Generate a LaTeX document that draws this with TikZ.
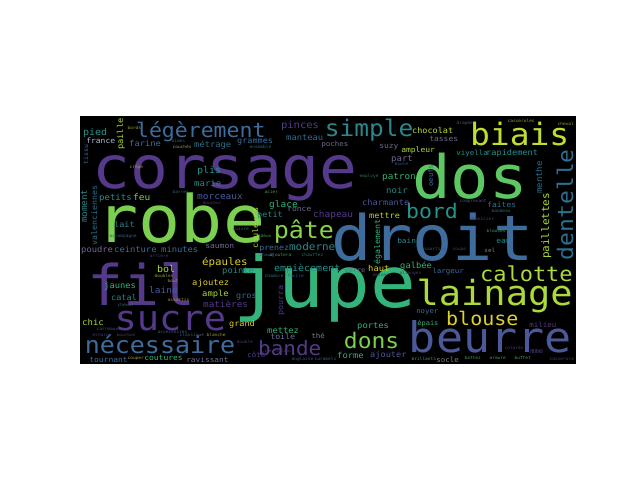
\documentclass[tikz,border=0pt]{standalone}
\usepackage{fontspec}
\newfontfamily\wcf[FakeStretch=1.07]{DejaVu Sans Mono}
\definecolor{vPa}{HTML}{55398B}
\definecolor{vPb}{HTML}{4B599B}
\definecolor{vBa}{HTML}{3E6C9C}
\definecolor{vBb}{HTML}{2C6F8E}
\definecolor{vTa}{HTML}{2A878B}
\definecolor{vTb}{HTML}{24948D}
\definecolor{vGa}{HTML}{32B47A}
\definecolor{vGb}{HTML}{5DC863}
\definecolor{vGc}{HTML}{7BD04F}
\definecolor{vGd}{HTML}{89D548}
\definecolor{vYa}{HTML}{ACD93C}
\definecolor{vYb}{HTML}{C1DE2F}
\definecolor{vYc}{HTML}{DDD12B}
\definecolor{vGra}{HTML}{6E6A90}
\definecolor{vGrb}{HTML}{7A7E8A}
\definecolor{vLt}{HTML}{A9B8D6}
\definecolor{tP}{HTML}{4A3A70}
\definecolor{tB}{HTML}{3A5A80}
\definecolor{tT}{HTML}{2A7070}
\definecolor{tG}{HTML}{4A9A60}
\definecolor{tY}{HTML}{9AA040}
\tikzset{wc/.style={anchor=base west, inner sep=0pt, outer sep=0pt}}
\newcommand\wcsize[1]{\fontsize{\fpeval{#1/1.07}}{\fpeval{#1/1.07}}\selectfont}
\newcommand\wh[6]{\node[wc,text=#5,font=\wcf\wcsize{#4}] (#1) at ({#2-0.09*#4},#3) {#6};}
\newcommand\wv[6]{\node[wc,rotate=90,text=#5,font=\wcf\wcsize{#4}] (#1) at (#2,{#3+0.09*#4}) {#6};}
\begin{document}
\begin{tikzpicture}[x=1pt,y=-1pt]
\useasboundingbox (0,0) rectangle (640,480);
\fill[white] (0,0) rectangle (640,480);
\fill[black] (80,116) rectangle (576,364);
% large words
\wh{corsage}{98}{188}{63}{vPa}{corsage}
\wh{robe}{103}{242}{70}{vGc}{robe}
\wh{dos}{418}{198}{64}{vGb}{dos}
\wh{droit}{338}{260}{67}{vBa}{droit}
\wh{jupe}{240}{307}{76}{vGa}{jupe}
\wh{fil}{93}{305}{60}{vPa}{fil}
\wh{sucre}{118}{330}{37}{vPa}{sucre}
\wh{necessaire}{87}{353}{25}{vBa}{nécessaire}
\wh{bande}{260}{355}{21}{vPa}{bande}
\wh{beurre}{413}{352}{45}{vPb}{beurre}
\wh{lainage}{420}{305}{37}{vYa}{lainage}
\wh{calotte}{482}{281}{22}{vYa}{calotte}
\wh{blouse}{448}{325}{20}{vYc}{blouse}
\wh{biais}{473}{145}{33}{vYb}{biais}
\wh{simple}{327}{136}{24.5}{vTa}{simple}
\wh{legerement}{138}{137}{21.5}{vBa}{légèrement}
\wh{bord}{408}{218}{21.5}{vTb}{bord}
\wh{pate}{276}{238}{25}{vGd}{pâte}
\wh{dons}{346}{348}{23}{vGc}{dons}
\wv{dentelle}{573}{258}{23}{vBb}{dentelle}
% medium / small words
\wh{pinces}{282}{128}{10.5}{vPa}{pinces}
\wh{pied}{84}{135}{10}{vTb}{pied}
\wh{france}{87}{143}{8}{vLt}{france}
\wh{farine}{130}{146}{8.8}{vBa}{farine}
\wh{metrage}{195}{147}{8.8}{vBb}{métrage}
\wh{grammes}{238}{143}{8.5}{vBa}{grammes}
\wh{manteau}{287}{140}{8.8}{vBb}{manteau}
\wh{poches}{322}{146}{7.5}{vGra}{poches}
\wh{chocolat}{413}{133}{8.5}{vYb}{chocolat}
\wh{tasses}{430}{141}{8}{vGra}{tasses}
\wh{suzy}{380}{148}{8}{vGra}{suzy}
\wh{ampleur}{402}{152}{8}{vYa}{ampleur}
\wh{viyella}{457}{155}{7.5}{vTb}{viyella}
\wh{rapidement}{487}{155}{8.6}{vTb}{rapidement}
\wh{part}{392}{161}{9}{vGra}{part}
\wh{patron}{383}{179}{9.3}{vGa}{patron}
\wh{noir}{387}{193}{9}{vTa}{noir}
\wh{charmante}{363}{205}{8.7}{vPb}{charmante}
\wh{faites}{488}{207}{8}{vBb}{faites}
\wh{mettre}{370}{218}{8.5}{vYa}{mettre}
\wh{plis}{198}{173}{10}{vTb}{plis}
\wh{marie}{195}{186}{9}{vTa}{marie}
\wh{petits}{100}{200}{9}{vTb}{petits}
\wh{feu}{134}{200}{9.5}{vGc}{feu}
\wh{morceaux}{198}{199}{9.5}{vPb}{morceaux}
\wh{glace}{270}{207}{9.5}{vGa}{glace}
\wh{ronce}{288}{211}{8}{vGra}{ronce}
\wh{petit}{258}{217}{8.5}{vTa}{petit}
\wh{chapeau}{314}{217}{9.5}{vPa}{chapeau}
\wh{lait}{115}{227}{8.5}{vTa}{lait}
\wh{poudre}{82}{252}{8.8}{vGra}{poudre}
\wh{ceinture}{115}{252}{8.8}{vBa}{ceinture}
\wh{minutes}{162}{252}{8.8}{vBa}{minutes}
\wh{saumon}{206}{248}{8}{vGra}{saumon}
\wh{prenez}{260}{250}{8.3}{vBa}{prenez}
\wh{moderne}{290}{250}{11}{vTa}{moderne}
\wh{epaules}{203}{265}{10.8}{vYc}{épaules}
\wh{bol}{158}{272}{10}{vYa}{bol}
\wh{pointe}{223}{273}{8.8}{vTa}{pointe}
\wh{empiecement}{275}{271}{10}{vTb}{empiècement}
\wh{haut}{369}{271}{8.8}{vYc}{haut}
\wh{galbee}{401}{268}{8.8}{vGa}{galbée}
\wh{verre}{345}{272}{7}{vGra}{verre}
\wh{largeur}{433}{273}{7.5}{vBa}{largeur}
\wh{ajoutez}{193}{285}{8.8}{vYc}{ajoutez}
\wh{jaunes}{105}{288}{8.8}{vGa}{jaunes}
\wh{laine}{150}{293}{9.5}{vPb}{laine}
\wh{ample}{203}{296}{8.8}{vYa}{ample}
\wh{gros}{237}{298}{8.5}{vBb}{gros}
\wh{catal}{112}{300}{8.5}{vTa}{catal}
\wh{matieres}{204}{307}{9.3}{vPa}{matières}
\wh{chic}{83}{325}{9}{vYa}{chic}
\wh{grand}{230}{326}{8.5}{vYc}{grand}
\wh{mettez}{268}{333}{8.8}{vGa}{mettez}
\wh{toile}{271}{339}{8.3}{vGra}{toile}
\wh{the}{312}{338}{7.5}{vGrb}{thé}
\wh{cote}{248}{357}{7.5}{vPa}{côté}
\wh{tournant}{90}{362}{8}{vBa}{tournant}
\wh{coutures}{145}{360}{8}{vGa}{coutures}
\wh{ravissant}{187}{362}{7.8}{vGra}{ravissant}
\wh{portes}{358}{328}{8.8}{vGa}{portes}
\wh{noyer}{417}{313}{7.3}{vBa}{noyer}
\wh{epais}{418}{325}{7}{vGa}{épais}
\wh{milieu}{530}{327}{7.5}{vPa}{milieu}
\wh{forme}{338}{358}{8.8}{vGa}{forme}
\wh{ajouter}{371}{357}{8.6}{vPb}{ajouter}
\wh{socle}{437}{362}{7.5}{vGrb}{socle}
\wh{bain}{398}{243}{7.8}{vTa}{bain}
\wh{eau}{497}{243}{8}{vTa}{eau}
\wh{sel}{485}{252}{6}{vGrb}{sel}
\wh{mme}{531}{353}{7}{vPa}{mme}
% vertical words
\wv{paillettes}{549}{258}{11}{vYa}{paillettes}
\wv{menthe}{542}{193}{9}{vBb}{menthe}
\wv{valenciennes}{97}{245}{8.3}{vBb}{valenciennes}
\wv{moment}{87}{222}{9.2}{vTa}{moment}
\wv{tissu}{88}{164}{6.5}{vBa}{tissu}
\wv{paille}{123}{149}{8.7}{vYa}{paille}
\wv{couleurs}{258}{248}{8.5}{vYa}{couleurs}
\wv{egalement}{380}{264}{8.3}{vGa}{également}
\wv{pourra}{283}{315}{8.3}{vPa}{pourra}
\wv{oeufs}{433}{186}{7.3}{vBa}{oeufs}
% tiny words
\wh{t1}{128}{129}{4.5}{tY}{bords}
\wh{t2}{172}{142}{4.5}{tB}{aides}
\wh{t3}{173}{148}{4.5}{tY}{couchés}
\wh{t4}{250}{148}{4.5}{tT}{ensemble}
\wh{t5}{130}{168}{4.5}{tY}{crêpe}
\wh{t6}{173}{193}{4.5}{tB}{barres}
\wh{t7}{203}{204}{4.5}{tP}{douceur}
\wh{t8}{265}{193}{4.5}{tG}{acier}
\wh{t9}{233}{230}{4.5}{tT}{cuivre}
\wh{t10}{110}{237}{4.5}{tB}{accompagne}
\wh{t11}{261}{237}{4.5}{tG}{deux}
\wh{t12}{395}{165}{4.5}{tB}{boule}
\wh{t13}{360}{177}{4.5}{tT}{employé}
\wh{t14}{460}{202}{4.5}{tB}{comprenant}
\wh{t15}{492}{212}{4.5}{tT}{bandeau}
\wh{t16}{470}{220}{4.5}{tP}{chemisier}
\wh{t17}{487}{232}{4.5}{tG}{blouses}
\wh{t18}{422}{250}{4.5}{tB}{assorties}
\wh{t19}{453}{250}{4.5}{tP}{coupe}
\wh{t20}{260}{256}{4.5}{tB}{chaud}
\wh{t21}{270}{256}{4.5}{tG}{ajoutera}
\wh{t22}{302}{256}{4.5}{tT}{chauffez}
\wh{t23}{373}{276}{4.5}{tP}{dessert}
\wh{t24}{265}{277}{4.5}{tT}{chambre}
\wh{t25}{288}{277}{4.5}{tB}{facile}
\wh{t26}{400}{274}{4.5}{tP}{allongés}
\wh{t27}{155}{277}{4.5}{tY}{doubles}
\wh{t28}{168}{282}{4.5}{tY}{bout}
\wh{t29}{168}{301}{4.5}{tY}{assortis}
\wh{t30}{118}{306}{4.5}{tT}{cheval}
\wh{t31}{150}{257}{4.5}{tP}{arrière}
\wh{t32}{97}{330}{4.5}{tB}{carreaux}
\wh{t33}{93}{336}{4.5}{tP}{écharpe}
\wh{t34}{117}{336}{4.5}{tP}{bourbon}
\wh{t35}{180}{336}{4.5}{tB}{classique}
\wh{t36}{207}{336}{4.5}{tY}{blanche}
\wh{t37}{158}{333}{4.5}{tB}{accessoires}
\wh{t38}{237}{343}{4.5}{tP}{double}
\wh{t39}{265}{352}{4.5}{tP}{confortable}
\wh{t40}{292}{360}{4.5}{tB}{anglaise}
\wh{t41}{315}{360}{4.5}{tB}{caramels}
\wh{t42}{412}{360}{4.5}{tG}{brillants}
\wh{t43}{465}{359}{4.5}{tG}{battez}
\wh{t44}{490}{359}{4.5}{tG}{armure}
\wh{t45}{515}{359}{4.5}{tG}{buffet}
\wh{t46}{550}{360}{4.5}{tP}{casserole}
\wh{t47}{128}{359}{4.5}{tY}{couper}
\wh{t48}{508}{122}{4.5}{tY}{casseroles}
\wh{t49}{457}{124}{4.5}{tB}{drapée}
\wh{t50}{558}{125}{4.5}{tY}{cheval}
\wh{t51}{505}{349}{4.5}{tP}{colorés}
\end{tikzpicture}
\end{document}
